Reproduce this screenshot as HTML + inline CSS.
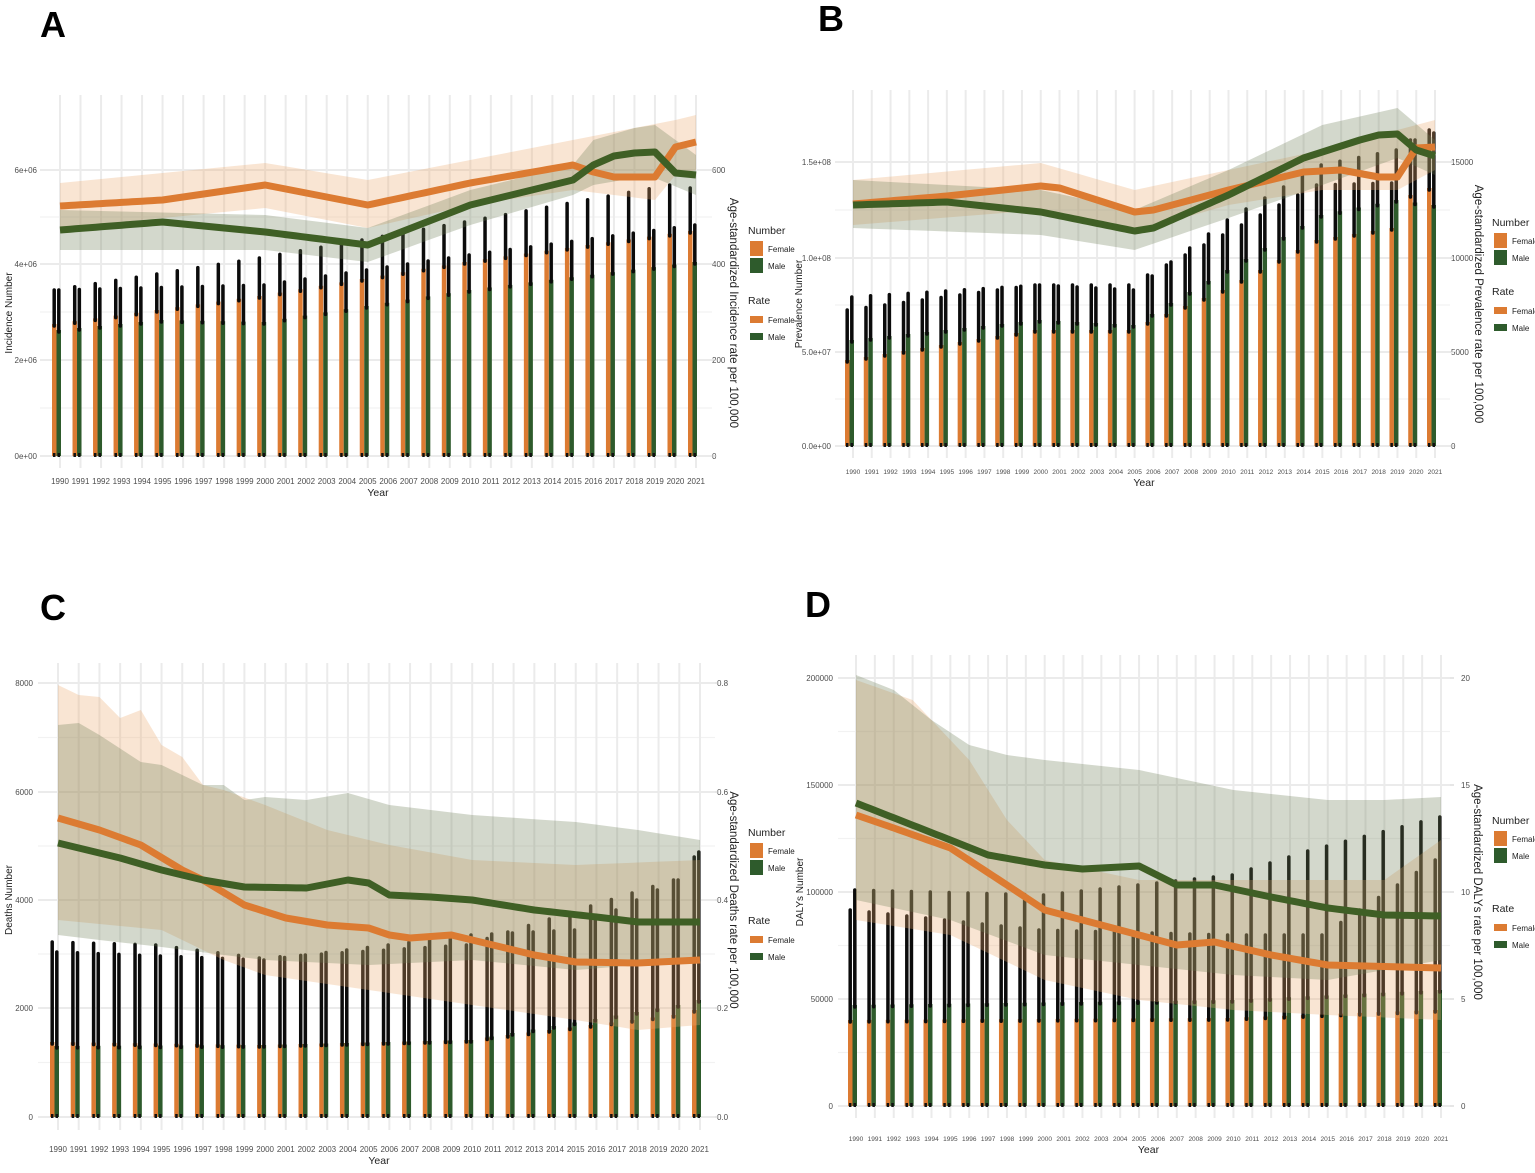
<!DOCTYPE html>
<html><head><meta charset="utf-8"><style>
html,body{margin:0;padding:0;background:#fff;}
svg{display:block;font-family:"Liberation Sans",sans-serif;}
</style></head><body>
<svg id="s" width="1535" height="1173" viewBox="0 0 1535 1173" xmlns="http://www.w3.org/2000/svg">
<rect width="1535" height="1173" fill="#fff"/>
<text x="40" y="37" font-size="36" font-weight="bold">A</text>
<text x="818" y="31" font-size="36" font-weight="bold">B</text>
<text x="40" y="620" font-size="36" font-weight="bold">C</text>
<text x="805" y="617" font-size="36" font-weight="bold">D</text>
</svg>
<script>
var S=document.getElementById('s'),NS='http://www.w3.org/2000/svg';
function el(t,a,txt){var e=document.createElementNS(NS,t);for(var k in a)e.setAttribute(k,a[k]);if(txt!==undefined)e.textContent=txt;S.appendChild(e);return e;}
function I(k,y){var ys=Object.keys(k).map(Number).sort(function(a,b){return a-b});
 if(y<=ys[0])return k[ys[0]];if(y>=ys[ys.length-1])return k[ys[ys.length-1]];
 for(var i=0;i<ys.length-1;i++){if(y>=ys[i]&&y<=ys[i+1]){var t=(y-ys[i])/(ys[i+1]-ys[i]);return k[ys[i]]+t*(k[ys[i+1]]-k[ys[i]]);}}}
var OR='#dc7b32',GR='#2e5b2c',LG='#3f5f25';
function panel(p){
 var sp=(p.x21-p.x90)/31; function X(y){return p.x90+(y-1990)*sp;}
 var ticks=p.ticks;
 for(var i=0;i<ticks.length;i++){el('line',{x1:p.gx0,x2:p.gx1,y1:ticks[i],y2:ticks[i],stroke:'#ebebeb','stroke-width':2});
  if(i<ticks.length-1){var m=(ticks[i]+ticks[i+1])/2;el('line',{x1:p.gx0,x2:p.gx1,y1:m,y2:m,stroke:'#f2f2f2','stroke-width':1.2});}}
 for(var y=1990;y<=2021;y++){el('line',{x1:X(y),x2:X(y),y1:p.gy0,y2:p.gy1,stroke:'#ebebeb','stroke-width':2});}
 for(var y=1990;y<=2021;y++){var c=X(y);
  var ft=I(p.fb,y),fe=I(p.fe,y),mt=I(p.mb,y),me=I(p.me,y),b=p.zero;
  el('rect',{x:c-8,y:ft,width:4.5,height:b-ft,fill:OR});
  el('rect',{x:c-3.5,y:mt,width:4.5,height:b-mt,fill:GR});
  el('line',{x1:c-5.8,x2:c-5.8,y1:fe,y2:ft+2,stroke:'#0b0b0b','stroke-width':3.5,'stroke-linecap':'round'});
  el('line',{x1:c-1.2,x2:c-1.2,y1:me,y2:mt+2,stroke:'#0b0b0b','stroke-width':3.5,'stroke-linecap':'round'});
  el('line',{x1:c-5.8,x2:c-5.8,y1:b-3,y2:b+1,stroke:'#111','stroke-width':2.5});
  el('line',{x1:c-1.2,x2:c-1.2,y1:b-3,y2:b+1,stroke:'#111','stroke-width':2.5});
 }
 function band(u,l,fill){var d='';for(var y=1990;y<=2021;y++)d+=(y==1990?'M':'L')+X(y)+','+I(u,y);
  for(var y=2021;y>=1990;y--)d+='L'+X(y)+','+I(l,y);el('path',{d:d+'Z',fill:fill});}
 band(p.fu,p.fl,'rgba(235,170,110,0.3)');
 band(p.mu,p.ml,'rgba(110,125,85,0.3)');
 function line(k,col){var d='';for(var y=1990;y<=2021;y+=0.25)d+=(y==1990?'M':'L')+X(y)+','+I(k,y);
  el('path',{d:d,fill:'none',stroke:col,'stroke-width':7,'stroke-linejoin':'round'});}
 line(p.fr,OR);line(p.mr,LG);
 for(var y=1990;y<=2021;y++)el('text',{x:X(y),y:p.yl,'font-size':p.yf,fill:'#4d4d4d','text-anchor':'middle'},String(y));
 el('text',{x:(p.x90+p.x21)/2,y:p.yl+12,'font-size':10.5,fill:'#222','text-anchor':'middle'},'Year');
 for(var i=0;i<ticks.length;i++){
  el('text',{x:p.lx,y:ticks[i]+3,'font-size':8,fill:'#4d4d4d','text-anchor':'end'},p.ll[i]);
  el('text',{x:p.rx,y:ticks[i]+3,'font-size':8,fill:'#4d4d4d'},p.rl[i]);
  el('line',{x1:p.gx1,x2:p.gx1+4,y1:ticks[i],y2:ticks[i],stroke:'#ccc','stroke-width':1});
 }
 var mid=(ticks[0]+ticks[ticks.length-1])/2;
 el('text',{x:0,y:0,'font-size':10,fill:'#222','text-anchor':'middle',transform:'translate('+p.ltx+','+mid+') rotate(-90)'},p.lt);
 el('text',{x:0,y:0,'font-size':11.5,fill:'#222','text-anchor':'middle',transform:'translate('+p.rtx+','+mid+') rotate(90)'},p.rt);
 var lx=p.lgx,ly=p.lgy;
 el('text',{x:lx,y:ly,'font-size':10.5,fill:'#222'},'Number');
 el('rect',{x:lx+2,y:ly+7,width:13,height:15,fill:OR});el('text',{x:lx+20,y:ly+18,'font-size':8,fill:'#222'},'Female');
 el('rect',{x:lx+2,y:ly+24,width:13,height:15,fill:GR});el('text',{x:lx+20,y:ly+35,'font-size':8,fill:'#222'},'Male');
 el('text',{x:lx,y:ly+p.rg,'font-size':10.5,fill:'#222'},'Rate');
 el('rect',{x:lx+2,y:ly+p.rg+12,width:13,height:7,fill:OR});el('text',{x:lx+20,y:ly+p.rg+19,'font-size':8,fill:'#222'},'Female');
 el('rect',{x:lx+2,y:ly+p.rg+29,width:13,height:7,fill:GR});el('text',{x:lx+20,y:ly+p.rg+36,'font-size':8,fill:'#222'},'Male');
}
panel({x90:60,x21:696,gx0:40,gx1:712,gy0:95,gy1:468,zero:456,ticks:[456,360,264,170],yf:8,
 ll:['0e+00','2e+06','4e+06','6e+06'],rl:['0','200','400','600'],lx:37,rx:712,yl:484,
 ltx:12,lt:'Incidence Number',rtx:730,rt:'Age-standardized Incidence rate per 100,000',lgx:748,lgy:234,rg:70,
 fb:{1990:324,2000:296,2010:262,2021:231},fe:{1990:290,2000:258,2010:222,2020:185,2021:188},
 mb:{1990:330,1995:320,2000:322,2010:290,2021:262},me:{1990:290,2000:285,2010:255,2021:225},
 fr:{1990:206,1995:200,2000:185,2005:205,2010:183,2015:165,2016:172,2017:177,2019:177,2020:147,2021:142},
 mr:{1990:230,1995:222,2000:232,2005:245,2010:205,2015:180,2016:165,2017:156,2018:153,2019:152,2020:173,2021:175},
 fu:{1990:183,2000:163,2005:180,2015:140,2020:120,2021:115},fl:{1990:228,2000:208,2005:228,2010:205,2015:190,2019:200,2020:175,2021:170},
 mu:{1990:210,2000:215,2005:228,2010:190,2015:165,2016:140,2018:128,2019:125,2021:155},ml:{1990:250,2000:250,2005:262,2010:225,2015:195,2016:185,2018:178,2019:178,2021:195}});
panel({x90:853,x21:1435,gx0:835,gx1:1450,gy0:90,gy1:458,zero:446,ticks:[446,352,258,162],yf:6.5,
 ll:['0.0e+00','5.0e+07','1.0e+08','1.5e+08'],rl:['0','5000','10000','15000'],lx:831,rx:1451,yl:474,
 ltx:802,lt:'Prevalence Number',rtx:1475,rt:'Age-standardized Prevalence rate per 100,000',lgx:1492,lgy:226,rg:69,
 fb:{1990:360,2000:330,2005:330,2010:290,2015:240,2019:228,2020:195,2021:188},fe:{1990:310,2000:285,2005:285,2010:235,2015:185,2019:183,2020:140,2021:130},
 mb:{1990:340,2000:320,2005:325,2010:270,2015:215,2019:200,2021:205},me:{1990:297,2000:285,2005:290,2010:220,2015:165,2019:150,2020:140,2021:133},
 fr:{1990:204,1995:196,2000:186,2001:188,2005:212,2006:210,2010:190,2014:172,2016:170,2018:177,2019:177,2020:148,2021:147},
 mr:{1990:205,1995:202,2000:212,2005:231,2006:228,2010:195,2014:158,2017:140,2018:135,2019:134,2020:150,2021:156},
 fu:{1990:180,2000:163,2005:190,2010:170,2015:150,2019:130,2021:120},fl:{1990:225,2000:210,2005:232,2010:205,2015:190,2019:190,2021:170},
 mu:{1990:180,2000:190,2005:210,2010:170,2015:125,2019:108,2021:140},ml:{1990:228,2000:235,2005:250,2010:218,2015:185,2019:158,2021:175}});
panel({x90:58,x21:700,gx0:38,gx1:715,gy0:663,gy1:1130,zero:1117,ticks:[1117,1008,900,792,683],yf:8,
 ll:['0','2000','4000','6000','8000'],rl:['0.0','0.2','0.4','0.6','0.8'],lx:33,rx:717,yl:1152,
 ltx:12,lt:'Deaths Number',rtx:730,rt:'Age-standardized Deaths rate per 100,000',lgx:748,lgy:836,rg:88,
 fb:{1990:1042,2000:1045,2010:1040,2020:1015,2021:1010},fe:{1990:942,1995:945,2000:958,2010:945,2020:880,2021:857},
 mb:{1990:1046,2000:1045,2010:1040,2020:1005,2021:1000},me:{1990:952,2000:960,2010:935,2015:930,2020:880,2021:852},
 fr:{1990:818,1992:830,1994:845,1996:870,1997:880,1999:905,2001:918,2003:925,2005:928,2006:935,2007:938,2009:935,2011:945,2013:955,2015:962,2018:963,2021:960},
 mr:{1990:843,1993:858,1995:870,1997:880,1999:887,2002:888,2004:880,2005:883,2006:895,2008:897,2010:900,2013:910,2016:917,2018:922,2021:922},
 fu:{1990:685,1991:695,1992:697,1993:718,1994:710,1995:745,1996:757,1997:785,1998:790,2000:805,2003:830,2006:845,2010:860,2015:865,2021:860},
 fl:{1990:920,1995:930,1998:960,2000:975,2005:990,2010:1005,2015:1020,2018:1030,2021:1025},
 mu:{1990:725,1991:723,1992:735,1994:762,1995:765,1996:775,1997:785,1998:785,1999:800,2000:797,2002:800,2004:793,2006:805,2010:815,2015:822,2018:830,2021:840},
 ml:{1990:935,1992:940,1995:947,1998:955,2000:960,2005:965,2010:960,2015:970,2021:960}});
panel({x90:856,x21:1441,gx0:838,gx1:1450,gy0:655,gy1:1118,zero:1106,ticks:[1106,999,892,785,678],yf:6.5,
 ll:['0','50000','100000','150000','200000'],rl:['0','5','10','15','20'],lx:833,rx:1461,yl:1141,
 ltx:803,lt:'DALYs Number',rtx:1474,rt:'Age-standardized DALYs rate per 100,000',lgx:1492,lgy:824,rg:88,
 fb:{1990:1020,2010:1018,2021:1010},fe:{1990:910,2000:930,2010:935,2015:935,2021:860},
 mb:{1990:1005,2010:1000,2021:990},me:{1990:890,2000:895,2010:875,2014:851,2021:817},
 fr:{1990:815,1992:828,1995:848,1998:885,2000:910,2005:935,2007:945,2009:942,2012:955,2015:965,2021:968},
 mr:{1990:803,1995:840,1997:855,2000:865,2002:869,2005:866,2007:885,2009:885,2012:897,2015:908,2018:915,2021:916},
 fu:{1990:680,1993:700,1996:760,1998:820,2000:860,2005:880,2010:880,2018:880,2021:840},
 fl:{1990:920,1995:935,2000:980,2005:1000,2010:1010,2015:1015,2021:1020},
 mu:{1990:675,1992:690,1994:720,1996:745,1998:755,2000:760,2005:770,2010:790,2015:800,2018:800,2021:797},
 ml:{1990:900,1995:920,2000:955,2005:965,2010:975,2015:980,2021:960}});
</script>
</body></html>
